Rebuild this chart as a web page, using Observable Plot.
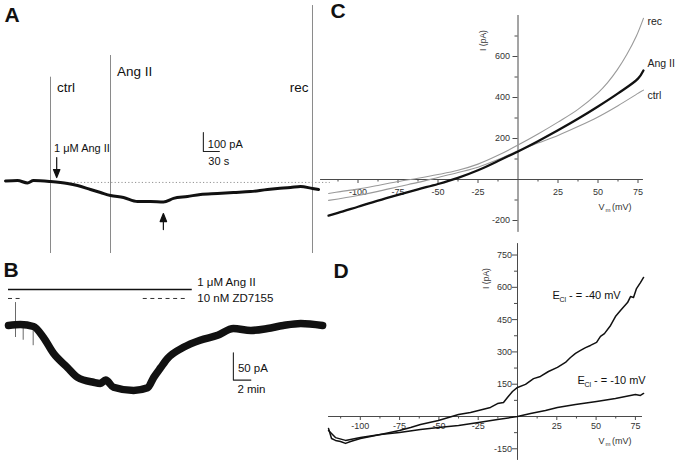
<!DOCTYPE html>
<html>
<head>
<meta charset="utf-8">
<script src="https://cdn.jsdelivr.net/npm/d3@7"></script>
<script src="https://cdn.jsdelivr.net/npm/@observablehq/plot@0.6"></script>
<style>
  html, body { margin: 0; padding: 0; background: #fff; }
  #fig { position: relative; width: 678px; height: 463px; overflow: hidden; }
  #fig svg { position: absolute; left: 0; top: 0; }
</style>
</head>
<body>
<div id="fig"></div>
<script>
const W = 678, H = 463;
const FONT = '"Liberation Sans", Arial, Helvetica, sans-serif';

// ---------- Panel A : current trace (time in s, current in pA) ----------
const traceA = [[0,2.6],[22.5,5.3],[41.25,-7.9],[52.5,5.3],[84.4,0],[103.1,-5.3],[116.25,-10.5],[135,-21],[159.4,-42],[178.1,-58],[196.9,-74],[221.25,-84],[247.5,-105],[271.9,-105],[296.25,-108],[315,-89],[341.25,-79],[365.6,-68],[397.5,-63],[427.5,-58],[459.4,-53],[491.25,-42],[510,-37],[534.4,-32],[553.1,-26],[575.6,-37],[586.9,-42]];
const eventsA = [
  {label: "ctrl", t: 84.4, top: 549, labelAt: 492},
  {label: "Ang II", t: 196.9, top: 663, labelAt: 576},
  {label: "rec", t: 575.6, top: 926, labelAt: 492}
];
const eventFloorA = -379;
const baselineA = [{pA: -5, from: 84.4, to: 609}];
const drugNoteA = [{text: "1 μM Ang II", t: 84.4, pA: 174}];
const arrowDownA = [{t: 96, pA: 126}];
const arrowUpA = [{t: 296, pA: -253}];
const scaleBarA = {t: 371, pA: 158, dt: 30, dpA: 100, tLabel: "30 s", pALabel: "100 pA"};

// ---------- Panel B : current trace (time in min, current in pA) ----------
const traceB = [[0,0],[1.37,1.8],[2.86,-1.8],[4.0,-22],[5.14,-51],[6.74,-77],[7.89,-95],[9.71,-104],[10.5,-106],[11.1,-100],[12.0,-113],[14.3,-119],[15.9,-114],[16.6,-95],[17.4,-77],[18.2,-60],[20.0,-40],[21.9,-27],[23.9,-18],[25.7,-5.5],[27.7,-9],[29.6,-5.5],[31.4,0],[33.4,3.7],[35.9,0]];
const spikesB = [{t: 0.8, lo: -22, hi: 42}, {t: 1.68, lo: -27, hi: 0}, {t: 2.82, lo: -37, hi: 0}];
const angBarB = [{t1: 0, t2: 21.0, pA: 66, label: "1 μM Ang II", labelAt: 79}];
const zdBarsB = [{t1: 0, t2: 1.37, pA: 49.5}, {t1: 15.4, t2: 20.5, pA: 49.5}];
const zdLabelB = [{label: "10 nM ZD7155", t: 21.0, pA: 49.5}];
const scaleBarB = {t: 25.7, pA: -100, dt: 2, dpA: 50, tLabel: "2 min", pALabel: "50 pA"};

// ---------- Panel C : I-V curves (mV, pA) ----------
const cRec = [[-118.4,-68],[-111,-59],[-100,-47],[-87.5,-29],[-75,-10],[-62.5,6],[-50,24],[-37.5,45],[-25,75],[-12.5,118],[0,168],[12.5,222],[25,280],[37.5,342],[50,423],[56,473],[62,535],[68,610],[74,700],[78.4,786]];
const cAng = [[-118.4,-176],[-112.5,-163],[-100,-133],[-87.5,-103],[-75,-75],[-62.5,-48],[-50,-22],[-37.5,8],[-25,45],[-12.5,90],[0,137],[12.5,187],[25,240],[37.5,296],[50,356],[62.5,420],[75,492],[78.4,532]];
const cCtrl = [[-118.4,-102],[-100,-78],[-87.5,-58],[-75,-35],[-62.5,-14],[-50,10],[-37.5,34],[-25,60],[-12.5,97],[0,140],[12.5,178],[25,215],[37.5,258],[50,305],[62.5,360],[75,420],[78.4,436]];
const cLabels = [{label: "rec", mV: 78.4, pA: 771}, {label: "Ang II", mV: 78.4, pA: 566}, {label: "ctrl", mV: 78.4, pA: 410}];
const cXMajor = [-100, -75, -50, -25, 25, 50, 75];
const cXMinor = [-112.5, -87.5, -62.5, -37.5, -12.5, 12.5, 37.5, 62.5];
const cYMajor = [-200, 200, 400, 600];
const cYMinor = [-100, 100, 300, 500, 700];

// ---------- Panel D : I-V curves at two E_Cl (mV, pA) ----------
const dMinus40 = [[-120.2,-56],[-118.3,-102],[-115.8,-111],[-112.6,-116],[-109.4,-125],[-106.2,-116],[-99.9,-102],[-93.5,-93],[-87.2,-84],[-75.1,-65],[-68,-51],[-61.7,-37],[-50.3,-19],[-37.5,9],[-29.9,19],[-24.8,28],[-17.2,42],[-12.7,60],[-8.9,65],[-6.4,88],[-3.2,116],[0,135],[5.1,149],[10.2,176],[14.6,186],[19.7,209],[25.4,228],[30.5,251],[33.7,274],[36.9,293],[40.1,307],[43.3,320],[46.4,330],[50.3,344],[52.8,372],[55.3,385],[59.2,423],[62.3,464],[65.5,492],[70,529],[71.9,557],[73.8,553],[75.7,594],[78.2,622],[80.2,646]];
const dMinus10 = [[-120.2,-65],[-115.8,-98],[-109.4,-111],[-99.9,-98],[-87.2,-84],[-75.1,-74],[-61.7,-60],[-50.3,-51],[-37.5,-42],[-24.8,-28],[-12.7,-14],[-4.5,-5],[0,0],[8.3,14],[17.8,28],[25.4,42],[36.9,56],[50.3,70],[62.3,84],[75,102],[78.2,98],[80.2,107]];
const dLabels = [{value: "- = -40 mV", mV: 22.3, pA: 562}, {value: "- = -10 mV", mV: 38.2, pA: 167}];
const dXMajor = [-100, -75, -50, -25, 25, 50, 75];
const dXMinor = [-112.5, -87.5, -62.5, -37.5, -12.5, 12.5, 37.5, 62.5];
const dYMajor = [-150, 150, 300, 450, 600, 750];
const dYMinor = [-75, 75, 225, 375, 525, 675];

const panelLetters = [{t: "A", dx: 4, dy: 7}, {t: "B", dx: 3, dy: 262}, {t: "C", dx: 330, dy: 3}, {t: "D", dx: 333, dy: 263}];

// ---------- helpers ----------
const arrowShape = {
  draw(ctx, l) {
    const h = 8, w = 3.2;
    ctx.moveTo(0, 0); ctx.lineTo(0, -l + h);
    ctx.moveTo(-w, -l + h); ctx.lineTo(0, -l); ctx.lineTo(w, -l + h); ctx.closePath();
  }
};

function panel(x, y, marks) {
  return Plot.plot({
    width: W, height: H, marginTop: 0, marginRight: 0, marginBottom: 0, marginLeft: 0,
    x: {...x, axis: null}, y: {...y, axis: null},
    style: {background: "transparent", fontFamily: FONT, overflow: "visible"},
    marks
  });
}

function scaleBar(b) {
  return Plot.line([[b.t, b.pA + b.dpA], [b.t, b.pA], [b.t + b.dt, b.pA]],
    {x: d => d[0], y: d => d[1], stroke: "#222", strokeWidth: 1.1});
}

function ivAxes(c) {
  const col = "#4a4a4a", tcol = "#333";
  return [
    Plot.ruleY([0], {x1: c.xExt[0], x2: c.xExt[1], stroke: col, strokeWidth: 1}),
    Plot.ruleX([0], {y1: c.yExt[0], y2: c.yExt[1], stroke: col, strokeWidth: 1}),
    Plot.ruleX(c.xMajor, {x: d => d, y1: 0, y2: 0, insetTop: 0, insetBottom: -4, stroke: col}),
    Plot.ruleX(c.xMinor, {x: d => d, y1: 0, y2: 0, insetTop: 0, insetBottom: -2.5, stroke: col}),
    Plot.ruleY(c.yMajor, {y: d => d, x1: 0, x2: 0, insetLeft: -5, insetRight: 0, stroke: col}),
    Plot.ruleY(c.yMinor, {y: d => d, x1: 0, x2: 0, insetLeft: -3, insetRight: 0, stroke: col}),
    Plot.text(c.xMajor, {x: d => d, y: 0, dy: c.xLabelDy, text: d => String(d), fontSize: 9, fill: tcol}),
    Plot.text(c.yMajor, {x: 0, y: d => d, dx: c.yLabelDx, text: d => String(d), textAnchor: "end", fontSize: 9, fill: tcol}),
    Plot.text(["I (pA)"], {x: 0, y: c.yTitleY, dx: c.yTitleDx, rotate: -90, fontSize: 8.5, fill: tcol}),
    Plot.text(["V"], {x: c.xTitleX, y: 0, dy: c.xTitleDy, textAnchor: "start", fontSize: 9, fill: tcol}),
    Plot.text(["m"], {x: c.xTitleX, y: 0, dx: 7, dy: c.xTitleDy + 2.5, textAnchor: "start", fontSize: 6, fill: tcol}),
    Plot.text(["(mV)"], {x: c.xTitleX, y: 0, dx: 13.5, dy: c.xTitleDy, textAnchor: "start", fontSize: 9, fill: tcol})
  ];
}

// ---------- Panel A ----------
const plotA = panel(
  {domain: [0, 620], range: [5, 5 + 620 / 1.875]},
  {domain: [-400, 960], range: [181 + 400 * 0.19, 181 - 960 * 0.19]},
  [
    Plot.ruleX(eventsA, {x: "t", y1: eventFloorA, y2: "top", stroke: "#8a8a8a", strokeWidth: 1}),
    Plot.ruleY(baselineA, {y: "pA", x1: "from", x2: "to", stroke: "#888", strokeWidth: 0.9, strokeDasharray: "1.2,2.2"}),
    Plot.line(traceA, {x: d => d[0], y: d => d[1], stroke: "#111", strokeWidth: 3, curve: "monotone-x"}),
    Plot.text(eventsA.filter(d => d.label !== "rec"), {x: "t", y: "labelAt", text: "label", dx: 6.5, textAnchor: "start", fontSize: 13.5, fill: "#111"}),
    Plot.text(eventsA.filter(d => d.label === "rec"), {x: "t", y: "labelAt", text: "label", dx: -4, textAnchor: "end", fontSize: 13.5, fill: "#111"}),
    Plot.text(drugNoteA, {x: "t", y: "pA", text: "text", dx: 3.5, textAnchor: "start", fontSize: 11, fill: "#111"}),
    Plot.vector(arrowDownA, {x: "t", y: "pA", length: 20, rotate: 180, anchor: "start", shape: arrowShape, stroke: "#111", fill: "#111", strokeWidth: 1.2}),
    Plot.vector(arrowUpA, {x: "t", y: "pA", length: 16, rotate: 0, anchor: "start", shape: arrowShape, stroke: "#111", fill: "#111", strokeWidth: 1.2}),
    scaleBar(scaleBarA),
    Plot.text([scaleBarA], {x: "t", y: "pA", text: "pALabel", dx: 4.5, dy: -7, textAnchor: "start", fontSize: 11, fill: "#111"}),
    Plot.text([scaleBarA], {x: "t", y: "pA", text: "tLabel", dx: 5, dy: 10, textAnchor: "start", fontSize: 11, fill: "#111"})
  ]
);

// panel letters (constant pixel offsets within the figure frame)
const lettersPlot = Plot.plot({
  width: W, height: H, marginTop: 0, marginRight: 0, marginBottom: 0, marginLeft: 0,
  style: {background: "transparent", fontFamily: FONT, overflow: "visible"},
  marks: panelLetters.map(p => Plot.text([p.t], {frameAnchor: "top-left", dx: p.dx, dy: p.dy, textAnchor: "start", lineAnchor: "top", fontSize: 21, fontWeight: "bold", fill: "#111"}))
});

// ---------- Panel B ----------
const plotB = panel(
  {domain: [0, 37], range: [8, 8 + 37 * 8.75]},
  {domain: [-150, 150], range: [325 + 150 * 0.546, 325 - 150 * 0.546]},
  [
    Plot.ruleX(spikesB, {x: "t", y1: "lo", y2: "hi", stroke: "#444", strokeWidth: 0.8}),
    Plot.line(traceB, {x: d => d[0], y: d => d[1], stroke: "#111", strokeWidth: 7.5, curve: "monotone-x"}),
    Plot.ruleY(angBarB, {y: "pA", x1: "t1", x2: "t2", stroke: "#111", strokeWidth: 1.4}),
    Plot.ruleY(zdBarsB, {y: "pA", x1: "t1", x2: "t2", stroke: "#333", strokeWidth: 1, strokeDasharray: "4,3.6"}),
    Plot.text(angBarB, {x: "t2", y: "labelAt", text: "label", dx: 5, textAnchor: "start", fontSize: 11.5, fill: "#111"}),
    Plot.text(zdLabelB, {x: "t", y: "pA", text: "label", dx: 5, textAnchor: "start", fontSize: 11.5, fill: "#111"}),
    scaleBar(scaleBarB),
    Plot.text([scaleBarB], {x: "t", y: "pA", text: "pALabel", dx: 4.5, dy: -12, textAnchor: "start", fontSize: 11.5, fill: "#111"}),
    Plot.text([scaleBarB], {x: "t", y: "pA", text: "tLabel", dx: 4, dy: 9, textAnchor: "start", fontSize: 11.5, fill: "#111"})
  ]
);

// ---------- Panel C ----------
const plotC = panel(
  {domain: [-125, 80], range: [517.5 - 125 * 1.6, 517.5 + 80 * 1.6]},
  {domain: [-260, 800], range: [179 + 260 * 0.205, 179 - 800 * 0.205]},
  [
    ...ivAxes({xExt: [-123.4, 78.4], yExt: [-258, 800], xMajor: cXMajor, xMinor: cXMinor, yMajor: cYMajor, yMinor: cYMinor,
      xLabelDy: 13, yLabelDx: -8, yTitleY: 678, yTitleDx: -34.5, xTitleX: 50.3, xTitleDy: 28}),
    Plot.line(cRec, {x: d => d[0], y: d => d[1], stroke: "#9a9a9a", strokeWidth: 1.1, curve: "catmull-rom"}),
    Plot.line(cCtrl, {x: d => d[0], y: d => d[1], stroke: "#9a9a9a", strokeWidth: 1.1, curve: "catmull-rom"}),
    Plot.line(cAng, {x: d => d[0], y: d => d[1], stroke: "#111", strokeWidth: 2.3, curve: "catmull-rom"}),
    Plot.text(cLabels, {x: "mV", y: "pA", text: "label", dx: 4, textAnchor: "start", fontSize: 10.5, fill: "#222"})
  ]
);

// ---------- Panel D ----------
const plotD = panel(
  {domain: [-125, 81], range: [517 - 125 * 1.572, 517 + 81 * 1.572]},
  {domain: [-210, 810], range: [416 + 210 * 0.2153, 416 - 810 * 0.2153]},
  [
    ...ivAxes({xExt: [-120.2, 79.5], yExt: [-204, 803], xMajor: dXMajor, xMinor: dXMinor, yMajor: dYMajor, yMinor: dYMinor,
      xLabelDy: 10, yLabelDx: -5.5, yTitleY: 641, yTitleDx: -31, xTitleX: 51.5, xTitleDy: 25}),
    Plot.line(dMinus10, {x: d => d[0], y: d => d[1], stroke: "#111", strokeWidth: 1.5}),
    Plot.line(dMinus40, {x: d => d[0], y: d => d[1], stroke: "#111", strokeWidth: 1.5}),
    Plot.text(dLabels, {x: "mV", y: "pA", text: () => "E", textAnchor: "start", fontSize: 11, fill: "#111"}),
    Plot.text(dLabels, {x: "mV", y: "pA", text: () => "Cl", dx: 7, dy: 4.5, textAnchor: "start", fontSize: 7, fill: "#111"}),
    Plot.text(dLabels, {x: "mV", y: "pA", text: "value", dx: 16.5, textAnchor: "start", fontSize: 11, fill: "#111"})
  ]
);

const fig = document.getElementById("fig");
for (const p of [plotA, plotB, plotC, plotD, lettersPlot]) fig.appendChild(p);
</script>
</body>
</html>
